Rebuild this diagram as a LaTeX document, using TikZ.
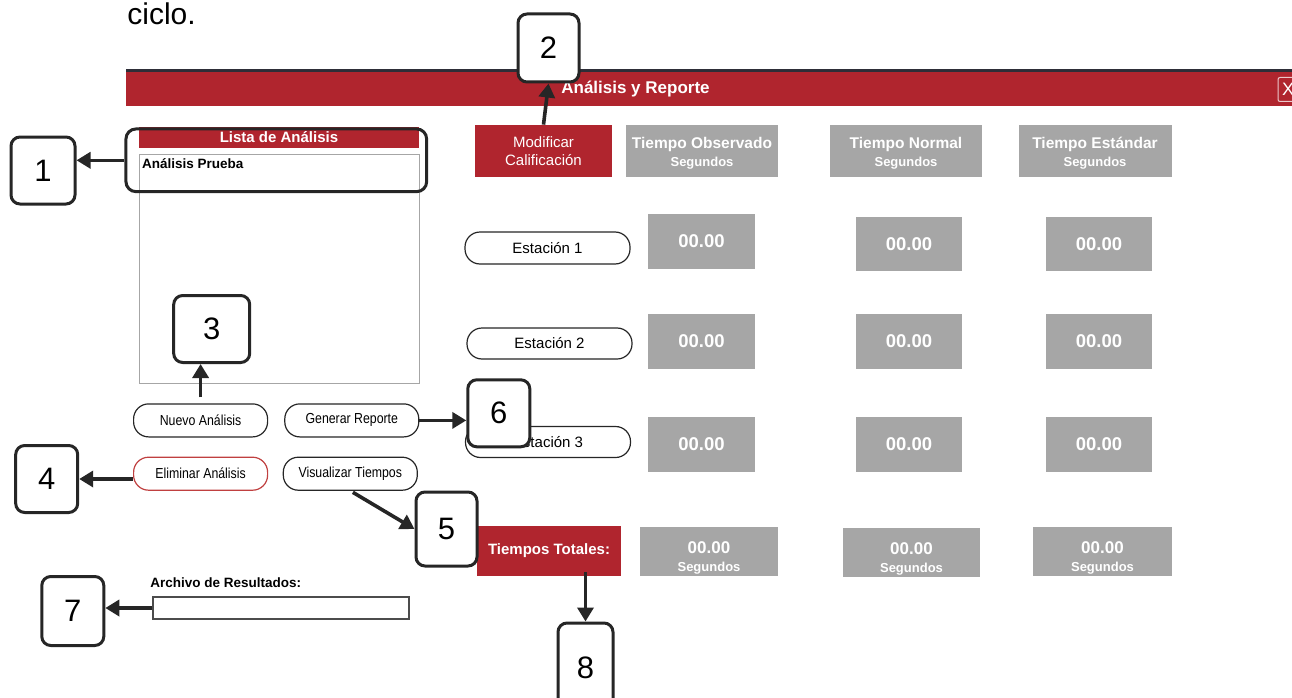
\documentclass[tikz,border=0pt]{standalone}
\usepackage{fontspec}
\setmainfont{Liberation Sans}
\newfontfamily\narrowfont[FakeStretch=0.85]{Liberation Sans}
\usetikzlibrary{arrows.meta}

\definecolor{uired}{RGB}{176,37,46}
\definecolor{uigray}{RGB}{166,166,166}
\definecolor{calldark}{RGB}{38,38,38}
\definecolor{elimred}{RGB}{192,64,64}

\tikzset{every picture/.style={line width=0.75pt}}
\tikzset{
  numbox/.style={draw=calldark, line width=3pt, rounded corners=9pt, fill=white, inner sep=0pt, font=\fontsize{31}{31}\selectfont},
  callout/.style={draw=calldark, line width=3.6pt, -{Triangle[length=14pt,width=16pt]}},
  redbox/.style={fill=uired, text=white, inner sep=0pt},
  graybox/.style={fill=uigray, text=white, inner sep=0pt, align=center, font=\bfseries\fontsize{18.5}{20}\selectfont},
  pill/.style={draw=black!85, line width=1.2pt, rounded corners=15pt, fill=white, inner sep=0pt, font=\fontsize{15}{18}\selectfont},
  uibtn/.style={pill, minimum width=134pt, minimum height=33pt, font=\narrowfont\fontsize{14.5}{17}\selectfont},
}

\begin{document}
\begin{tikzpicture}[x=1pt,y=1pt,yscale=-1]
  \useasboundingbox (0,0) rectangle (1292,698);

  % Text Node
  \draw (127,25) node [anchor=base west][inner sep=0pt] (ciclo) {\fontsize{30}{30}\selectfont ciclo.};

  %Shape: Title bar
  \fill [uired] (126,71.5) rectangle (1292,106);
  \draw [line width=2.6pt, draw={rgb,255:red,46;green,46;blue,56}] (126,70.3) -- (1292,70.3);
  % Text Node
  \draw (635.5,89) node [inner sep=0pt, text=white, font=\bfseries\fontsize{17}{18}\selectfont] (title) {Análisis y Reporte};
  %Shape: Close button
  \draw (1288,89.5) node [draw=white!75!uired, line width=1pt, rounded corners=2pt, minimum width=20pt, minimum height=24pt, inner sep=0pt, text=white, font=\fontsize{18}{18}\selectfont] (close) {X};

  %Shape: List
  \draw (279,268.5) node [draw=black!35, line width=1pt, minimum width=280pt, minimum height=229pt, inner sep=0pt] (lbox) {};
  \draw (279,137.5) node [redbox, minimum width=280pt, minimum height=21pt, font=\bfseries\fontsize{15}{18}\selectfont] (lhead) {Lista de Análisis};
  % Text Node
  \draw (141.7,168) node [anchor=base west][inner sep=0pt, font=\bfseries\fontsize{13.5}{16}\selectfont] (prueba) {Análisis Prueba};
  %Shape: Highlight
  \draw (276.3,160.3) node [draw=calldark, line width=3pt, rounded corners=10pt, minimum width=300.7pt, minimum height=62.7pt, inner sep=0pt] (hl) {};

  %Shape: Header boxes
  \draw (543.5,151) node [redbox, minimum width=137pt, minimum height=52pt, align=center, font=\fontsize{15}{18}\selectfont] (modif) {Modificar\\Calificación};
  \draw (702,151) node [graybox, minimum width=152pt, minimum height=52pt, font=\bfseries\fontsize{15.5}{18}\selectfont] (hobs) {\rule{0pt}{15pt}Tiempo Observado\\{\fontsize{13}{18}\selectfont Segundos}};
  \draw (906,151) node [graybox, minimum width=152pt, minimum height=52pt, font=\bfseries\fontsize{15.5}{18}\selectfont] (hnor) {\rule{0pt}{15pt}Tiempo Normal\\{\fontsize{13}{18}\selectfont Segundos}};
  \draw (1095,151) node [graybox, minimum width=153pt, minimum height=52pt, font=\bfseries\fontsize{15.5}{18}\selectfont] (hest) {\rule{0pt}{15pt}Tiempo Estándar\\{\fontsize{13}{18}\selectfont Segundos}};

  %Shape: Stations
  \draw (547.5,248) node [pill, minimum width=165pt, minimum height=32pt] (est1) {Estación 1};
  \draw (549.5,343.5) node [pill, minimum width=165pt, minimum height=31pt] (est2) {Estación 2};
  \draw (548,442) node [pill, minimum width=165pt, minimum height=31pt] (est3) {Estación 3};

  %Shape: Value boxes
  \draw (701.5,241.5) node [graybox, minimum width=107pt, minimum height=55pt] (vo1) {00.00};
  \draw (909,244) node [graybox, minimum width=106pt, minimum height=54pt] (vn1) {00.00};
  \draw (1099,244) node [graybox, minimum width=106pt, minimum height=54pt] (ve1) {00.00};
  \draw (701.5,341.5) node [graybox, minimum width=107pt, minimum height=55pt] (vo2) {00.00};
  \draw (909,341.5) node [graybox, minimum width=106pt, minimum height=55pt] (vn2) {00.00};
  \draw (1099,341.5) node [graybox, minimum width=106pt, minimum height=55pt] (ve2) {00.00};
  \draw (701.5,444.5) node [graybox, minimum width=107pt, minimum height=55pt] (vo3) {00.00};
  \draw (909,444.5) node [graybox, minimum width=106pt, minimum height=55pt] (vn3) {00.00};
  \draw (1099,444.5) node [graybox, minimum width=106pt, minimum height=55pt] (ve3) {00.00};

  %Shape: Totals
  \draw (549,551) node [redbox, minimum width=144pt, minimum height=50pt, font=\bfseries\fontsize{15}{18}\selectfont] (totales) {Tiempos Totales:};
  \draw (709,551.5) node [graybox, minimum width=138pt, minimum height=49pt, font=\bfseries\fontsize{17}{18}\selectfont] (to) {\rule{0pt}{24pt}00.00\\{\fontsize{13}{17}\selectfont Segundos}};
  \draw (911.5,552.5) node [graybox, minimum width=137pt, minimum height=49pt, font=\bfseries\fontsize{17}{18}\selectfont] (tn) {\rule{0pt}{24pt}00.00\\{\fontsize{13}{17}\selectfont Segundos}};
  \draw (1102.5,551.5) node [graybox, minimum width=139pt, minimum height=49pt, font=\bfseries\fontsize{17}{18}\selectfont] (te) {\rule{0pt}{24pt}00.00\\{\fontsize{13}{17}\selectfont Segundos}};

  %Shape: Buttons
  \draw (200.6,420.4) node [uibtn] (nuevo) {Nuevo Análisis};
  \draw (351.8,420.4) node [uibtn] (generar) {Generar Reporte};
  \draw (200.6,473.7) node [uibtn, draw=elimred] (elim) {Eliminar Análisis};
  \draw (350.3,473.7) node [uibtn] (visual) {Visualizar Tiempos};

  % Text Node
  \draw (150,587.7) node [anchor=base west][inner sep=0pt, font=\bfseries\fontsize{13.5}{16}\selectfont] (archivo) {Archivo de Resultados:};
  %Shape: Input
  \draw (281,608) node [draw=black!70, line width=2pt, minimum width=256pt, minimum height=22pt, inner sep=0pt] (input) {};

  %Shape: Numbered boxes
  \draw (43,170.5) node [numbox, minimum width=64pt, minimum height=67pt] (one) {1};
  \draw (548.5,48) node [numbox, minimum width=61pt, minimum height=68pt] (two) {2};
  \draw (211.7,329) node [numbox, minimum width=76pt, minimum height=67pt] (three) {3};
  \draw (46.7,479) node [numbox, minimum width=62pt, minimum height=67pt] (four) {4};
  \draw (446.5,529) node [numbox, minimum width=61pt, minimum height=74pt] (five) {5};
  \draw (498.8,413.3) node [numbox, minimum width=62pt, minimum height=67pt] (six) {6};
  \draw (72.8,611) node [numbox, minimum width=62pt, minimum height=69pt] (seven) {7};
  \draw (585.5,667.5) node [numbox, minimum width=55pt, minimum height=89pt] (eight) {8};

  %Arrows
  \draw [callout] (hl.west) -- (hl.west -| one.east);
  \draw [callout] (modif.north) -- (two.south);
  \draw [callout, shorten <=6pt] (nuevo.north) -- (nuevo.north |- three.south);
  \draw [callout] (elim.west |- four.east) -- (four.east);
  \draw [callout, shorten <=3pt] (visual.south) -- (five.west);
  \draw [callout] (generar.east) -- (generar.east -| six.west);
  \draw [callout] (input.west) -- (input.west -| seven.east);
  \draw [callout, shorten <=-4pt] (eight.north |- totales.south) -- (eight.north);
\end{tikzpicture}
\end{document}
